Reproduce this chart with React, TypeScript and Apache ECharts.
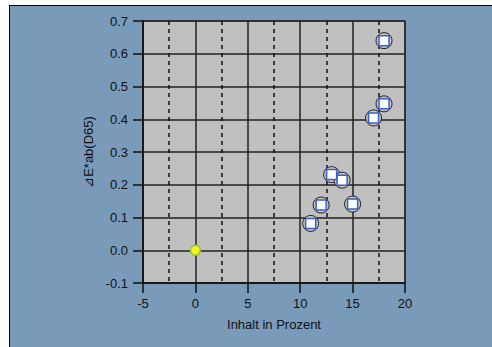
import React, { useEffect, useRef } from "react";
import * as echarts from "echarts";

const xValues = [18, 18, 17, 13, 14, 12, 15, 11];
const yValues = [0.64, 0.447, 0.404, 0.231, 0.214, 0.138, 0.141, 0.082];
const refPoint = [0, 0];
const xTicks = [-5, 0, 5, 10, 15, 20];
const yTicks = [-0.1, 0.0, 0.1, 0.2, 0.3, 0.4, 0.5, 0.6, 0.7];

export default function App() {
  const ref = useRef<HTMLDivElement>(null);
  useEffect(() => {
    const chart = echarts.init(ref.current!, null, { renderer: "svg" });
    const pts = xValues.map((x, i) => [x, yValues[i]]);
    const font = "Liberation Sans, Arial, sans-serif";
    chart.setOption({
      animation: false,
      backgroundColor: "#ffffff",
      graphic: [
        { type: "rect", shape: { x: 9, y: 5, width: 483, height: 342 }, style: { fill: "#7a9aba" }, z: -10 },
        { type: "line", shape: { x1: 9, y1: 5.5, x2: 492, y2: 5.5 }, style: { stroke: "#000", lineWidth: 1 }, z: -9 },
        { type: "line", shape: { x1: 9.5, y1: 5, x2: 9.5, y2: 347 }, style: { stroke: "#000", lineWidth: 1 }, z: -9 },
      ],
      grid: {
        left: 143, top: 21, width: 262, height: 262,
        show: true, backgroundColor: "#c0c0c0", borderColor: "#222", borderWidth: 1,
      },
      xAxis: {
        type: "value", min: xTicks[0], max: xTicks[xTicks.length - 1], interval: 5,
        name: "Inhalt in Prozent", nameLocation: "middle", nameGap: 35,
        nameTextStyle: { fontFamily: font, fontSize: 13, color: "#111" },
        axisLine: { show: true, onZero: false, lineStyle: { color: "#111", width: 1.5 } },
        axisTick: { show: true, length: 10, lineStyle: { color: "#111", width: 1.5 } },
        axisLabel: { fontFamily: font, fontSize: 13, color: "#111", margin: 14 },
        splitLine: { show: true, lineStyle: { color: "#222", width: 1.5 } },
        minorTick: { show: false, splitNumber: 2 },
        minorSplitLine: { show: true, lineStyle: { color: "#111", type: [4, 4], width: 1.5 } },
      },
      yAxis: {
        type: "value", min: yTicks[0], max: yTicks[yTicks.length - 1], interval: 0.1,
        name: "⊿E*ab(D65)", nameLocation: "middle", nameGap: 40,
        nameTextStyle: { fontFamily: font, fontSize: 13, color: "#111" },
        axisLine: { show: true, onZero: false, lineStyle: { color: "#111", width: 1.5 } },
        axisTick: { show: true, length: 10, lineStyle: { color: "#111", width: 1.5 } },
        axisLabel: { fontFamily: font, fontSize: 13, color: "#111", margin: 15, formatter: (v: number) => v.toFixed(1) },
        splitLine: { show: true, lineStyle: { color: "#222", width: 1.5 } },
      },
      series: [
        {
          type: "scatter", data: pts, symbol: "circle", symbolSize: 16,
          itemStyle: { color: "#c4c4c4", borderColor: "#222", borderWidth: 1, opacity: 1 }, z: 3,
        },
        {
          type: "scatter", data: pts, symbol: "rect", symbolSize: 10,
          itemStyle: { color: "#ffffff", borderColor: "#3a5fcd", borderWidth: 1.5, opacity: 1 }, z: 4,
        },
        {
          type: "scatter", data: [refPoint], symbol: "circle", symbolSize: 10,
          itemStyle: { color: "#f4f41c", borderColor: "#8cc43c", borderWidth: 1.5, opacity: 1 }, z: 4,
        },
      ],
    });
    return () => chart.dispose();
  }, []);
  return (
    <div style={{ position: "fixed", left: 0, top: 0, width: 492, height: 347 }}>
      <div ref={ref} style={{ width: 492, height: 347 }} />
    </div>
  );
}
